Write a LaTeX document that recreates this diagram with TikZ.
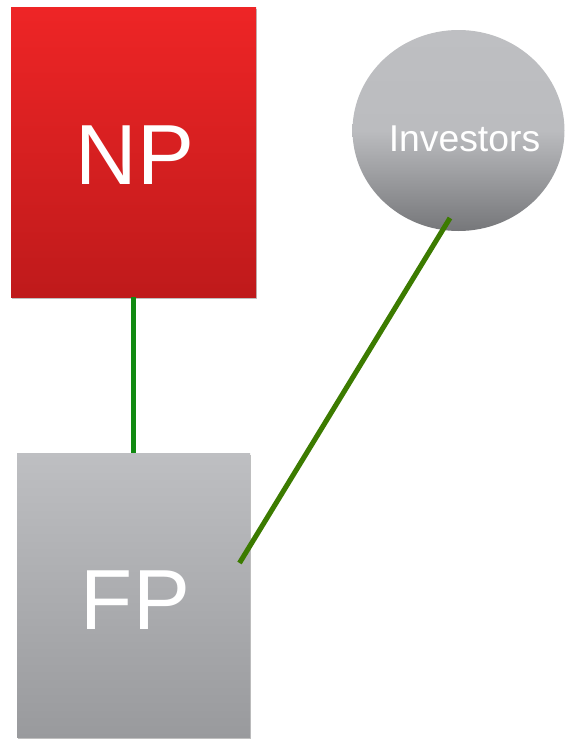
\documentclass[tikz,border=0pt]{standalone}
\usepackage{fontspec}
\setmainfont{Liberation Sans}
\usetikzlibrary{shapes.geometric,shadows}
\definecolor{redtop}{HTML}{EE2526}
\definecolor{redbot}{HTML}{BF1A1B}
\definecolor{graytop}{HTML}{BEBFC2}
\definecolor{graybot}{HTML}{999A9D}
\definecolor{ellmid}{HTML}{BBBCBF}
\definecolor{ellbot}{HTML}{76777A}
\definecolor{linkA}{HTML}{118A11}
\definecolor{linkB}{HTML}{3C7B00}
\tikzset{
  px/.style={x=0.75pt,y=-0.75pt},
  boxshape/.style={rectangle,inner sep=0pt,minimum width=#1,
    drop shadow={shadow xshift=1pt,shadow yshift=-1.5pt,opacity=0.25,fill=black}},
  link/.style={line width=3.8pt}
}
\begin{document}
\begin{tikzpicture}[px]
\useasboundingbox (0,0) rectangle (565,743);
\node[boxshape=183.75pt,minimum height=217.5pt,top color=redtop,bottom color=redbot,
  label={[text=white,font=\fontsize{64}{64}\selectfont,shift={(1.1pt,-2pt)}]center:NP}]
  (np) at (133.5,152) {};
\node[boxshape=174.75pt,minimum height=213pt,top color=graytop,bottom color=graybot,
  label={[text=white,font=\fontsize{64}{64}\selectfont,shift={(1.5pt,-4pt)}]center:FP}]
  (fp) at (133.5,595) {};
\node[ellipse,inner sep=0pt,minimum width=159pt,minimum height=150.75pt,
  top color=graytop,bottom color=ellbot,middle color=ellmid,
  label={[text=white,font=\fontsize{28}{28}\selectfont,shift={(4.5pt,-6.5pt)}]center:Investors}]
  (inv) at (458.5,130.5) {};
\coordinate (ia) at (450,218);
\coordinate (fb) at (239.5,563);
\draw[link,linkA] (np.south) -- (fp.north);
\draw[link,linkB] (ia) -- (fb);
\end{tikzpicture}
\end{document}
